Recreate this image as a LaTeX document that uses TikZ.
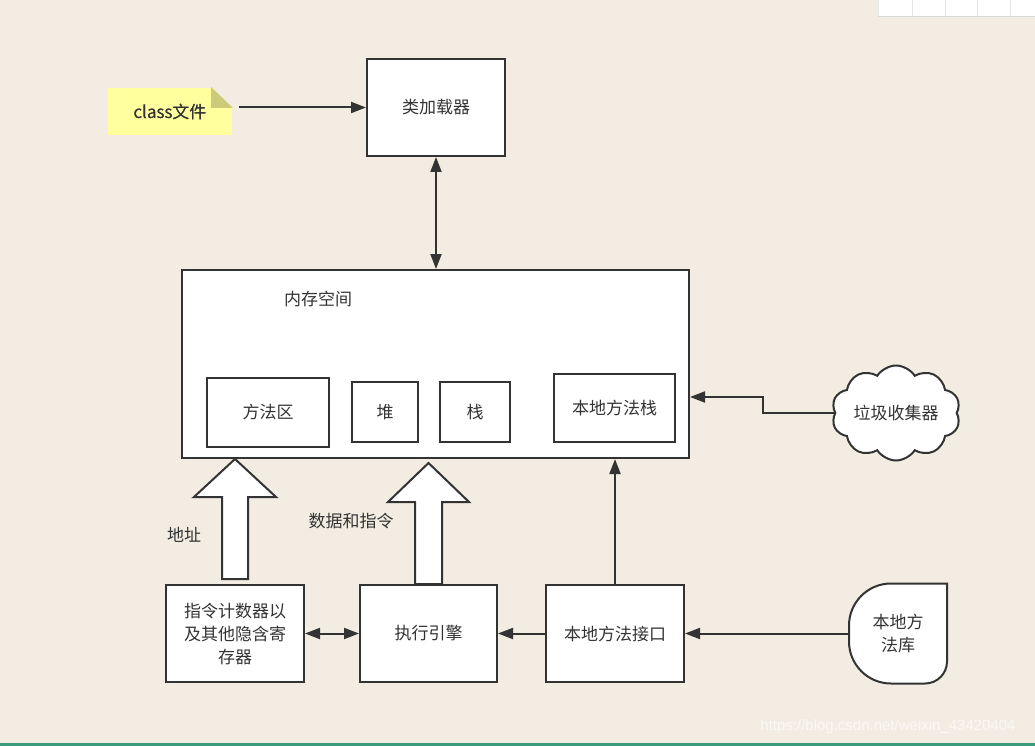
\documentclass[tikz,border=0pt]{standalone}
\usepackage{fontspec}
\setmainfont{Noto Sans CJK SC}
\newfontfamily\wmfont{Liberation Sans}
\usetikzlibrary{arrows.meta,calc,shapes.symbols}

\definecolor{bgcol}{HTML}{F2ECE3}
\definecolor{linecol}{HTML}{333333}
\definecolor{notefill}{HTML}{FFFF9E}
\definecolor{foldcol}{HTML}{CBCB7A}
\definecolor{barcol}{HTML}{3A9A7C}

\begin{document}
\begin{tikzpicture}[x=1pt,y=-1pt,>={Triangle[length=15pt,width=11pt]},
	line width=2pt,font=\fontsize{17}{23}\selectfont,
	box/.style={draw=linecol,fill=white,text=linecol,align=center,inner sep=0pt},
	note/.style={fill=notefill,text=linecol,inner sep=0pt,minimum width=124pt,minimum height=47pt},
	gc cloud/.style={cloud,cloud puffs=10,cloud puff arc=115,cloud ignores aspect,
		draw=linecol,fill=white,text=linecol,minimum width=125pt,minimum height=95pt},
	link/.style={draw=linecol,->},
	fat arrow/.style={draw=linecol,fill=white,line join=miter}]
	
	\useasboundingbox (0,0) rectangle (1035,746);
	\fill[bgcol] (0,0) rectangle (1035,746);
	
	% toolbar strip and bottom rule
	\fill[white] (878,0) rectangle (1035,16);
	\draw[line width=0.8pt,black!15] (878,16.5) -- (1035,16.5);
	\foreach \sx in {878,912,945,977,1010}
		\draw[line width=0.6pt,black!10] (\sx,0) -- (\sx,16);
	\fill[barcol] (0,743) rectangle (1035,746);
	
	% nodes
	\node[note] (cls) at (170,111.5) {class文件};
	\fill[bgcol] (cls.north east) -- ++(-22,0) -- ++(22,21) -- cycle;
	\fill[foldcol] ($(cls.north east)+(-22,0)$) -- ++(0,21) -- ++(22,0) -- cycle;
	\node[note,fill=none] at (cls) {class文件};
	
	\node[box,minimum width=138pt,minimum height=97pt] (loader) at (436,107.5) {类加载器};
	\node[box,minimum width=507pt,minimum height=188pt] (mem) at (435.5,364) {};
	\node[text=linecol] (memlbl) at (318,299) {内存空间};
	\node[box,minimum width=122pt,minimum height=69pt] (ma) at (268,412.5) {方法区};
	\node[box,minimum width=66pt,minimum height=60pt] (heap) at (385,412) {堆};
	\node[box,minimum width=70pt,minimum height=60pt] (stack) at (475,412) {栈};
	\node[box,minimum width=121pt,minimum height=68pt] (nms) at (614.5,408) {本地方法栈};
	\node[gc cloud] (gc) at (896,413) {垃圾收集器};
	
	\node[box,minimum width=138pt,minimum height=97pt] (pc) at (235,633.5) {指令计数器以\\及其他隐含寄\\存器};
	\node[box,minimum width=137pt,minimum height=97pt] (ee) at (428.5,633.5) {执行引擎};
	\node[box,minimum width=138pt,minimum height=97pt] (ni) at (615,633.5) {本地方法接口};
	\node[text=linecol,align=center,minimum width=96pt,minimum height=98pt] (lib) at (898,633.5) {本地方\\法库};
	\draw[draw=linecol,fill=white] (lib.north east) [rounded corners=22pt] -- (lib.south east)
		[rounded corners=42pt] -- (lib.south west) -- (lib.north west) [sharp corners] -- cycle;
	\node[text=linecol,align=center] at (lib) {本地方\\法库};
	
	% connectors
	\draw[link,shorten <=6pt] (cls.east |- loader.west) -- (loader.west);
	\draw[link,<->] (loader.south) -- (loader.south |- mem.north);
	\draw[link] (gc.west) -- ++(-71,0) |- ($(mem.east)+(0,33)$);
	\draw[link] (ni.north) -- (ni.north |- mem.south);
	\draw[link] (lib.west) -- (ni.east);
	\draw[link] (ni.west) -- (ee.east);
	\draw[link,<->] (pc.east) -- (ee.west);
	
	% block arrows
	\draw[fat arrow] ($(pc.north)+(-13,-5)$) -- ++(0,-82) -- ++(-28,0)
		-- (pc.north |- mem.south) -- ($(pc.north)+(41,-87)$) -- ++(-28,0) -- ++(0,82) -- cycle;
	\draw[fat arrow] ($(ee.north)+(-13.5,0)$) -- ++(0,-82) -- ++(-27,0)
		-- ($(ee.north |- mem.south)+(0,4)$) -- ($(ee.north)+(40.5,-82)$) -- ++(-27,0) -- ++(0,82) -- cycle;
	\node[text=linecol] (addr) at (184,535) {地址};
	\node[text=linecol] (data) at (351,521) {数据和指令};
	
	\node[text=white,opacity=0.65,font=\wmfont\fontsize{15}{18}\selectfont] (wm) at (888,727) {https://blog.csdn.net/weixin\_43420404};
\end{tikzpicture}
\end{document}
